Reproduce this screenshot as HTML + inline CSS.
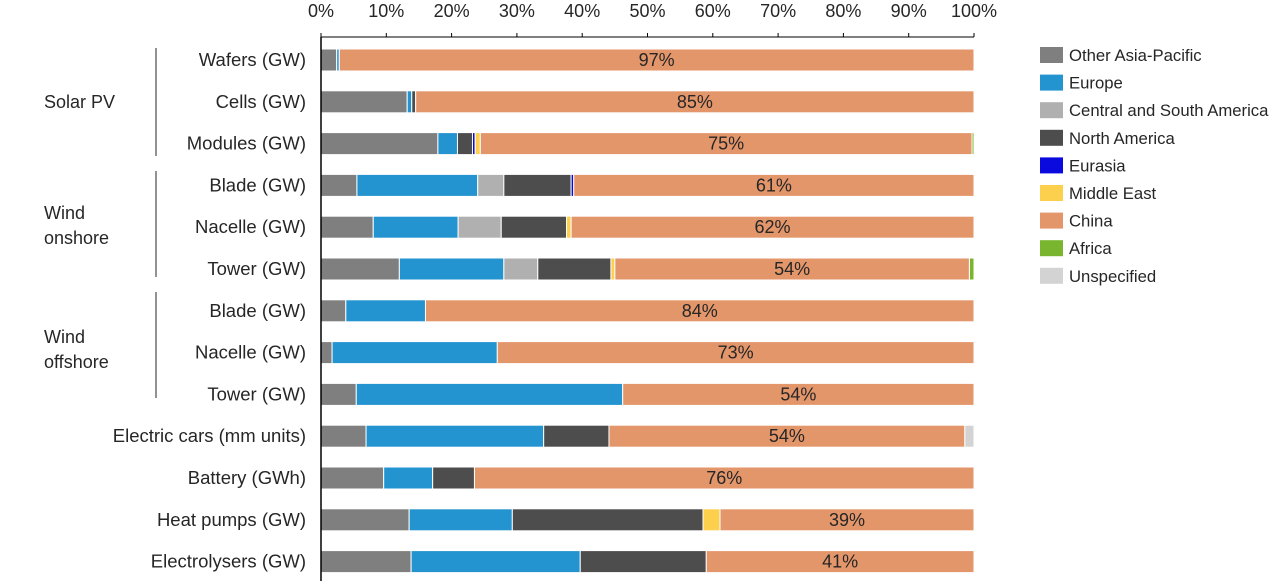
<!DOCTYPE html>
<html><head><meta charset="utf-8"><style>
body{margin:0;background:#fff;font-family:"Liberation Sans",sans-serif;}
svg text{font-family:"Liberation Sans",sans-serif;fill:#262626;}
</style></head><body>
<svg id="c" width="1280" height="581"></svg>
<script>
const categories=["Wafers (GW)","Cells (GW)","Modules (GW)","Blade (GW)","Nacelle (GW)","Tower (GW)","Blade (GW)","Nacelle (GW)","Tower (GW)","Electric cars (mm units)","Battery (GWh)","Heat pumps (GW)","Electrolysers (GW)"];
const seriesNames=["Other Asia-Pacific","Europe","Central and South America","North America","Eurasia","Middle East","China","Africa","Unspecified"];
const colors=["#7f7f7f","#2394d0","#b0b0b0","#4d4d4d","#0a0adf","#fcd04d","#e4966b","#79b52e","#d3d3d3"];
const otherAsia=[2.4,13.2,17.9,5.5,8,12,3.8,1.7,5.4,6.9,9.6,13.5,13.8];
const europe=[0.4,0.7,3,18.5,13,16,12.2,25.3,40.8,27.2,7.5,15.8,25.9];
const centralSouthAmerica=[0,0,0,4,6.6,5.2,0,0,0,0,0,0,0];
const northAmerica=[0,0.6,2.3,10.3,10,11.2,0,0,0,10,6.4,29.2,19.3];
const eurasia=[0,0,0.4,0.4,0,0,0,0,0,0,0,0,0];
const middleEast=[0,0,0.8,0,0.7,0.6,0,0,0,0,0,2.6,0];
const china=[97.2,85.5,75.3,61.3,61.7,54.3,84,73,53.8,54.5,76.5,38.9,41];
const africa=[0,0,0.3,0,0,0.7,0,0,0,0,0,0,0];
const unspecified=[0,0,0,0,0,0,0,0,0,1.4,0,0,0];
const chinaLabels=["97%","85%","75%","61%","62%","54%","84%","73%","54%","54%","76%","39%","41%"];
const ticks=[0,10,20,30,40,50,60,70,80,90,100];
const series=[otherAsia,europe,centralSouthAmerica,northAmerica,eurasia,middleEast,china,africa,unspecified];
const NS="http://www.w3.org/2000/svg";
const svg=document.getElementById('c');
const x=v=>321+v*6.53;
const y=i=>60+i*41.8;
const bh=22;
function mk(t,a,p){const e=document.createElementNS(NS,t);for(const k in a)e.setAttribute(k,a[k]);(p||svg).appendChild(e);return e;}
ticks.forEach(t=>{const e=mk('text',{x:x(t),y:17,'text-anchor':'middle','font-size':18});e.textContent=t+'%';

});
const ax=mk('line',{x1:321,x2:974,y1:37,y2:37,stroke:'#000','stroke-width':1});


ticks.forEach(t=>{mk('line',{x1:x(t),x2:x(t),y1:33,y2:37,stroke:'#000'});});
categories.forEach((c,i)=>{
 let acc=0;
 series.forEach((s,k)=>{const v=s[i];if(v>0){const r=mk('rect',{x:x(acc),y:y(i)-bh/2,width:v*6.53,height:bh,fill:colors[k],stroke:'#fff','stroke-width':1});
 
 }
 if(k===6){const t=mk('text',{x:x(acc+v/2),y:y(i)+6,'text-anchor':'middle','font-size':18});t.textContent=chinaLabels[i];
 
 }
 acc+=v;});
 const l=mk('text',{x:306,y:y(i)+6,'text-anchor':'end','font-size':18.5});l.textContent=c;
 
 
});
const yl=mk('line',{x1:321,x2:321,y1:37,y2:581,stroke:'#000','stroke-width':1.5});


[[48,156,["Solar PV"],102],[171,277,["Wind","onshore"],213],[292,398,["Wind","offshore"],337]].forEach(g=>{
 const ln=mk('line',{x1:156,x2:156,y1:g[0],y2:g[1],stroke:'#262626'});
 
 
 g[2].forEach((s,j)=>{const t=mk('text',{x:44,y:g[3]+6+j*25,'font-size':18});t.textContent=s;
 
 });
});
seriesNames.forEach((n,k)=>{const gy=55+k*27.6;
 const r=mk('rect',{x:1040,y:gy-8,width:23,height:16,fill:colors[k]});
 
 
 const t=mk('text',{x:1069,y:gy+6,'font-size':16.7});t.textContent=n;
 
 });
</script>
</body></html>
